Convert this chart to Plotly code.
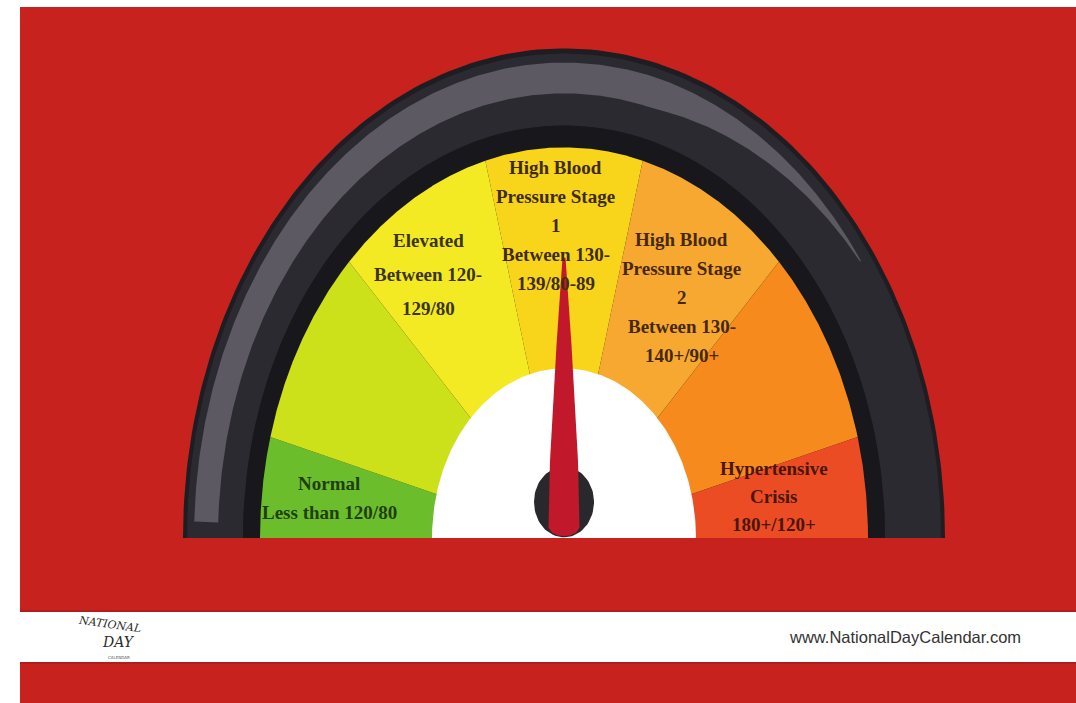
import numpy as np
import plotly.graph_objects as go

# ---------------- data ----------------
categories = ["Normal", "Elevated", "High Blood Pressure Stage 1",
              "High Blood Pressure Stage 2", "Hypertensive Crisis"]
category_labels = [
    "Normal\nLess than 120/80",
    "Elevated\nBetween 120-\n129/80",
    "High Blood\nPressure Stage\n1\nBetween 130-\n139/80-89",
    "High Blood\nPressure Stage\n2\nBetween 130-\n140+/90+",
    "Hypertensive\nCrisis\n180+/120+",
]
# colour bands of the dial (degrees of the 180-degree dial, left to right)
band_widths = [15, 30, 30, 30, 30, 30, 15]
band_colors = ["#6cbd2c", "#cde11b", "#f3ea24", "#f8d41b", "#f6a830", "#f68a1c", "#eb4c24"]
needle_value = 90          # dial degrees from the left end
footer_text = "www.NationalDayCalendar.com"
logo_lines = ["NATIONAL", "DAY", "CALENDAR"]

# ---------------- layout constants ----------------
W, H = 1076, 703
CX, CY = 564, 538          # gauge centre (pixels)
SY = 1.285                 # vertical stretch of the dial
R_OUT, R_RIM, R_STRIPE_O, R_STRIPE_I, R_BLACK, R_COLOR, R_HUB = 381, 377, 370, 346, 321, 304, 132

# label anchors (angle on screen in degrees, radius) and line spacing
label_anchor = [(172.4, 237, 29), (123.5, 246, 34), (91.9, 243, 29), (57.8, 221, 29), (8.8, 213, 28)]
label_colors = ["#1f3f12", "#3b3410", "#3d2c0c", "#47280c", "#4a160c"]


def pt(theta, r):
    t = np.radians(theta)
    return CX + r * np.cos(t), CY - SY * r * np.sin(t)


def band(r_in, r_out, a0, a1, n=160):
    a = np.linspace(a0, a1, n)
    xo, yo = pt(a, r_out)
    if r_in <= 0:
        xi, yi = np.array([CX]), np.array([CY])
    else:
        xi, yi = pt(a[::-1], r_in)
    return np.concatenate([xo, xi, xo[:1]]), np.concatenate([yo, yi, yo[:1]])


fig = go.Figure()


def poly(x, y, color):
    fig.add_trace(go.Scatter(x=x, y=y, mode="lines", fill="toself", fillcolor=color,
                             line=dict(width=0, color=color), hoverinfo="skip", showlegend=False))


# outer rim
poly(*band(0, R_OUT, 0, 180), "#1e1d22")
poly(*band(R_BLACK, R_RIM, 0, 180), "#2c2a31")

# grey highlight stripe, tapering on the right
a = np.linspace(178, 36, 300)
r_o = np.where(a > 75, R_STRIPE_O, R_STRIPE_O - (75 - a) / (75 - 36) * 3)
r_i = np.where(a > 75, R_STRIPE_I, R_STRIPE_I + (75 - a) / (75 - 36) * 20)
xo, yo = pt(a, r_o)
xi, yi = pt(a[::-1], r_i[::-1])
poly(np.concatenate([xo, xi]), np.concatenate([yo, yi]), "#5c5963")

# black inner ring
poly(*band(R_COLOR, R_BLACK, 0, 180), "#18171b")

# colour bands
edges = np.concatenate([[0], np.cumsum(band_widths)])
for i, c in enumerate(band_colors):
    a0, a1 = 180 - edges[i], 180 - edges[i + 1]
    poly(*band(0, R_COLOR, a0, a1), c)

# white hub
poly(*band(0, R_HUB, 0, 180), "#ffffff")

# needle
theta = 180 - needle_value
u = np.array([np.cos(np.radians(theta)), np.sin(np.radians(theta))])
v = np.array([-u[1], u[0]])


def local(along, across):
    p = np.outer(along, u) + np.outer(across, v)
    return CX + p[:, 0], CY - SY * p[:, 1]


t = np.linspace(0, 2 * np.pi, 80)
ox, oy = local(28 + 27.5 * np.sin(t), 30 * np.cos(t))
poly(ox, oy, "#29282d")

along = np.array([218, 150, 60, 8, 4, 2, 1.5, 2, 4, 8, 60, 150, 218])
across = np.array([1.5, 7.5, 14, 15.5, 12, 6, 0, -6, -12, -15.5, -14, -7.5, -1.5])
nx, ny = local(along, across)
poly(nx, ny, "#c1192b")

# ---------------- text ----------------
annotations = []
for lab, (ang, rad, sp), col in zip(category_labels, label_anchor, label_colors):
    lines = lab.split("\n")
    x0, y0 = pt(ang, rad)
    n = len(lines)
    for k, line in enumerate(lines):
        annotations.append(dict(x=float(x0), y=float(y0 + (k - (n - 1) / 2) * sp), text=line,
                                showarrow=False, xanchor="center", yanchor="middle",
                                font=dict(family="Liberation Serif, DejaVu Serif, serif", size=19,
                                          color=col, weight="bold")))

annotations.append(dict(x=905, y=637, text=footer_text, showarrow=False, xanchor="center", yanchor="middle",
                        font=dict(family="Liberation Sans Narrow, Liberation Sans, Arial, sans-serif", size=16.5,
                                  color="#333333")))
annotations.append(dict(x=110, y=624, text=logo_lines[0], showarrow=False, xanchor="center", yanchor="middle",
                        textangle=8,
                        font=dict(family="DejaVu Serif, serif", size=11, color="#2b2b2b", style="italic")))
annotations.append(dict(x=118, y=642, text=logo_lines[1], showarrow=False, xanchor="center", yanchor="middle",
                        font=dict(family="DejaVu Serif, serif", size=14, color="#2b2b2b", style="italic")))
annotations.append(dict(x=119, y=657, text=logo_lines[2], showarrow=False, xanchor="center", yanchor="middle",
                        font=dict(family="DejaVu Sans, sans-serif", size=4, color="#555555")))

shapes = [
    dict(type="rect", xref="x", yref="y", x0=20, x1=W, y0=7, y1=H, fillcolor="#c8221f", line_width=0, layer="below"),
    dict(type="rect", xref="x", yref="y", x0=20, x1=W, y0=610, y1=664, fillcolor="#b01d1b", line_width=0, layer="below"),
    dict(type="rect", xref="x", yref="y", x0=20, x1=W, y0=612, y1=662, fillcolor="#ffffff", line_width=0, layer="below"),
]

fig.update_layout(
    width=W, height=H, margin=dict(l=0, r=0, t=0, b=0, pad=0),
    paper_bgcolor="#ffffff", plot_bgcolor="#ffffff",
    xaxis=dict(range=[0, W], visible=False, fixedrange=True),
    yaxis=dict(range=[H, 0], visible=False, fixedrange=True),
    shapes=shapes, annotations=annotations, showlegend=False,
)

fig.write_html("out.html", config={"displayModeBar": False})
